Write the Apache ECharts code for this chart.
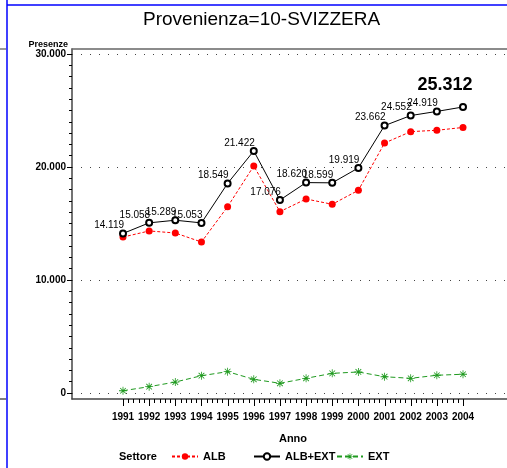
<!DOCTYPE html>
<html>
<head>
<meta charset="utf-8">
<script src="https://cdn.jsdelivr.net/npm/echarts@6/dist/echarts.min.js"></script>
<style>
  html, body { margin: 0; padding: 0; background: #fff; }
  #chart { width: 507px; height: 468px; }
</style>
</head>
<body>
<div id="chart"></div>
<script>
// dati
const years = [1991, 1992, 1993, 1994, 1995, 1996, 1997, 1998, 1999, 2000, 2001, 2002, 2003, 2004];
const alb = [13800, 14340, 14160, 13360, 16490, 20090, 16050, 17170, 16700, 17940, 22120, 23130, 23250, 23500];
const albExt = [14119, 15058, 15289, 15053, 18549, 21422, 17076, 18620, 18599, 19919, 23662, 24552, 24919, 25312];
const ext = [200, 560, 970, 1530, 1890, 1210, 860, 1300, 1740, 1860, 1440, 1300, 1570, 1660];
const yTicks = [0, 10000, 20000, 30000];

const FONT = "'Liberation Sans', Arial, sans-serif";
const STAR = "path://M1,-10L1,10L-1,10L-1,-10Z M-10,-1L10,-1L10,1L-10,1Z M-6.36,-7.78L7.78,6.36L6.36,7.78L-7.78,-6.36Z M7.78,-6.36L-6.36,7.78L-7.78,6.36L6.36,-7.78Z";

const fmt = (v) => String(v).replace(/\B(?=(\d{3})+(?!\d))/g, ".");
const pairs = (arr) => years.map((y, i) => [y, arr[i]]);

const chart = echarts.init(document.getElementById("chart"));

const axisText = { fontFamily: FONT, fontWeight: "bold", fontSize: 10, color: "#000" };

// cornice esterna (bordi della finestra originale)
const frameGraphics = [
  { type: "line", shape: { x1: 7, y1: 0, x2: 7, y2: 468 }, style: { stroke: "#0000ff", lineWidth: 1.5 } },
  { type: "line", shape: { x1: 7, y1: 5, x2: 507, y2: 5 }, style: { stroke: "#0000ff", lineWidth: 1.5 } },
  { type: "line", shape: { x1: 0, y1: 49, x2: 6, y2: 49 }, style: { stroke: "#777", lineWidth: 1.5 } },
  { type: "line", shape: { x1: 0, y1: 399, x2: 6, y2: 399 }, style: { stroke: "#555", lineWidth: 1.5 } },
];

const option = {
  animation: false,
  backgroundColor: "#fff",
  title: [
    {
      text: "Provenienza=10-SVIZZERA",
      left: 143,
      top: 10,
      padding: 0,
      textStyle: { fontFamily: FONT, fontWeight: "normal", fontSize: 19, color: "#000" },
    },
    {
      text: "Settore",
      left: 119,
      top: 451,
      padding: 0,
      textStyle: { fontFamily: FONT, fontWeight: "bold", fontSize: 11, color: "#000" },
    },
  ],
  legend: [
    { data: ["ALB"], left: 171, top: 451 },
    { data: ["ALB+EXT"], left: 253, top: 451 },
    { data: ["EXT"], left: 336, top: 451 },
  ].map((l) => ({
    ...l,
    padding: 0,
    itemWidth: 26,
    itemHeight: 8,
    itemGap: 0,
    textStyle: { fontFamily: FONT, fontWeight: "bold", fontSize: 11, color: "#000" },
  })),
  grid: [
    { left: 72, top: 49, right: -20, bottom: 69 },
    { left: 72, top: 54, right: 0, bottom: 75 },
    { left: 123, top: 54, right: 44, bottom: 75 },
  ],
  xAxis: [
    {
      gridIndex: 0, type: "value", position: "bottom", min: 0, max: 1,
      axisLine: { lineStyle: { color: "#444", width: 1.5 } },
      axisTick: { show: false }, axisLabel: { show: false }, splitLine: { show: false },
    },
    {
      gridIndex: 0, type: "value", position: "top", min: 0, max: 1,
      axisLine: { lineStyle: { color: "#666", width: 1.5 } },
      axisTick: { show: false }, axisLabel: { show: false }, splitLine: { show: false },
    },
    { gridIndex: 1, type: "value", show: false },
    {
      // anni: etichette
      gridIndex: 2,
      type: "value",
      position: "bottom",
      min: years[0],
      max: years[years.length - 1],
      interval: 1,
      offset: 6,
      name: "Anno",
      nameLocation: "middle",
      nameGap: 34,
      nameTextStyle: { ...axisText, fontSize: 11 },
      axisLine: { show: false },
      axisTick: { show: false },
      axisLabel: {
        ...axisText,
        margin: 13,
        showMinLabel: true,
        showMaxLabel: true,
        formatter: (v) => String(v),
      },
      splitLine: { show: false },
    },
  ],
  yAxis: [
    {
      gridIndex: 0, type: "value", min: 0, max: 1,
      axisLine: { show: true, lineStyle: { color: "#444", width: 1.5 } },
      axisTick: { show: false }, axisLabel: { show: false }, splitLine: { show: false },
    },
    {
      gridIndex: 1,
      type: "value",
      min: yTicks[0],
      max: yTicks[yTicks.length - 1],
      interval: yTicks[1] - yTicks[0],
      name: "Presenze",
      nameLocation: "end",
      nameGap: 5,
      nameTextStyle: { fontFamily: FONT, fontWeight: "bold", fontSize: 9, color: "#000", align: "right", padding: [0, 4, 0, 0] },
      axisLine: { show: false },
      axisTick: { show: true, length: 5, lineStyle: { color: "#000" } },
      minorTick: { show: true, splitNumber: 10, length: 3, lineStyle: { color: "#000" } },
      axisLabel: { ...axisText, margin: 6, formatter: fmt },
      splitLine: { show: true, lineStyle: { color: "#444", type: [1, 8] } },
    },
    { gridIndex: 2, type: "value", min: yTicks[0], max: yTicks[yTicks.length - 1], show: false },
  ],
  series: [
    {
      name: "ALB",
      type: "line",
      xAxisIndex: 3,
      yAxisIndex: 2,
      data: pairs(alb),
      symbol: "circle",
      symbolSize: 7,
      itemStyle: { color: "#ff0000" },
      lineStyle: { color: "#ff0000", width: 1, type: [3, 2] },
    },
    {
      name: "ALB+EXT",
      type: "line",
      xAxisIndex: 3,
      yAxisIndex: 2,
      z: 3,
      data: pairs(albExt).map((p, i) =>
        i === albExt.length - 1
          ? { value: p, label: { fontSize: 18, fontWeight: "bold", align: "center", offset: [-18, -9], fontFamily: FONT } }
          : p
      ),
      symbol: "emptyCircle",
      symbolSize: 6,
      itemStyle: { color: "#000", borderColor: "#000", borderWidth: 1 },
      lineStyle: { color: "#000", width: 1 },
      label: {
        show: true,
        position: "top",
        distance: 0,
        align: "right",
        offset: [1, 1],
        fontFamily: FONT,
        fontSize: 10,
        color: "#000",
        formatter: (p) => fmt(p.value[1]),
      },
    },
    {
      name: "EXT",
      type: "line",
      xAxisIndex: 3,
      yAxisIndex: 2,
      data: pairs(ext),
      symbol: STAR,
      symbolSize: 8,
      itemStyle: { color: "#1f9a1f" },
      lineStyle: { color: "#1f9a1f", width: 1, type: [5, 3] },
    },
  ],
  graphic: frameGraphics,
};

chart.setOption(option);

// tacche dell'asse x (anni + 4 secondarie), posizionate con la scala dell'asse
const AXIS_Y = 399;
const tickGraphics = [];
years.forEach((yr, i) => {
  const x = Math.round(chart.convertToPixel({ xAxisIndex: 3 }, yr)) + 0.5;
  tickGraphics.push({ type: "line", z: 100, shape: { x1: x, y1: AXIS_Y, x2: x, y2: AXIS_Y + 7 }, style: { stroke: "#000", lineWidth: 1 } });
  if (i < years.length - 1) {
    for (let k = 1; k < 5; k++) {
      const xm = Math.round(chart.convertToPixel({ xAxisIndex: 3 }, yr + k / 5)) + 0.5;
      tickGraphics.push({ type: "line", z: 100, shape: { x1: xm, y1: AXIS_Y, x2: xm, y2: AXIS_Y + 4 }, style: { stroke: "#000", lineWidth: 1 } });
    }
  }
});
chart.setOption({ graphic: frameGraphics.concat(tickGraphics) });

window.addEventListener("resize", () => chart.resize());
</script>
</body>
</html>
